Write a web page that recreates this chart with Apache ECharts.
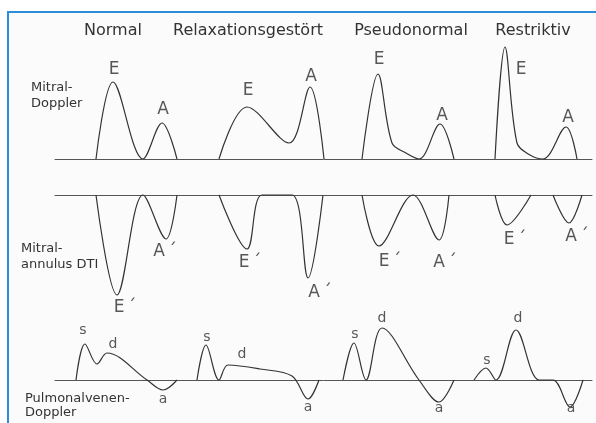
<!DOCTYPE html>
<html>
<head>
<meta charset="utf-8">
<title>Diastolische Funktion</title>
<script src="https://cdn.jsdelivr.net/npm/echarts@6/dist/echarts.min.js"></script>
<style>
  html, body { margin: 0; padding: 0; background: #fff; }
  #main { width: 596px; height: 423px; }
</style>
</head>
<body>
<div id="main"></div>
<script>
// Kategorien (Spaltenueberschriften)
var stages = ['Normal', 'Relaxationsgestört', 'Pseudonormal', 'Restriktiv'];
var stageX = [113, 248, 411, 533];

// Mitral-Doppler: [Zeit, Amplitude] je Stadium
var mitralNormal = [[96,0],[113,77],[143,0],[162,36],[177,0]];
var mitralRelax  = [[219,0],[247,52],[289,16],[310,72],[324,0]];
var mitralPseudo = [[362,0],[378,85],[392,16],[406,6],[419,0],[440,35],[454,0]];
var mitralRestr  = [[495,0],[505,112],[517,16],[530,4],[543,0],[566,32],[577,0]];

// Mitralannulus DTI
var dtiNormal = [[96,0],[117,-100],[143,0],[166,-44],[177,0]];
var dtiRelax  = [[219,0],[247,-54],[262,0],[292,0],[308,-83],[323,0]];
var dtiPseudo = [[362,0],[379,-51],[413,0],[439,-45],[449,0]];
var dtiRestr  = [[495,0],[507,-30],[531,0]];
var dtiRestrA = [[553,0],[569,-28],[582,0]];

// Pulmonalvenen-Doppler
var pvNormal = [[76,0],[85,36],[97,16],[107,27],[147,0],[163,-10],[177,0]];
var pvRelax  = [[197,0],[206,35],[219,0],[228,15],[260,11],[292,4],[308,-19],[319,0]];
var pvPseudo = [[343,0],[354,37],[366,0],[382,52],[419,0],[439,-22],[454,0]];
var pvRestr  = [[474,0],[486,12],[496,0],[516,50],[539,0],[553,0],[570,-27],[583,0]];

// Wellenbeschriftungen [x, Amplitude, Text]
var mitralLabels = [[114,89,'E'],[163,49,'A'],[248,68,'E'],[311,82,'A'],[379,99,'E'],[442,43,'A'],[521,89,'E'],[568,41,'A']];
var dtiLabels = [[125,-113,'E\u2009´'],[165,-57,'A\u2009´'],[250,-68,'E\u2009´'],[320,-98,'A\u2009´'],[390,-67,'E\u2009´'],[445,-68,'A\u2009´'],[515,-45,'E\u2009´'],[577,-42,'A\u2009´']];
var pvLabels = [[83,50,'s'],[113,36,'d'],[163,-19,'a'],[207,43,'s'],[242,26,'d'],[308,-27,'a'],[355,46,'s'],[382,62,'d'],[439,-28,'a'],[487,20,'s'],[518,62,'d'],[571,-28,'a']];

// Zeilenbeschriftungen
var rowLabels = [
  { x: 31, lines: ['Mitral-', 'Doppler'], y: [88, 104] },
  { x: 21, lines: ['Mitral-', 'annulus DTI'], y: [249, 265] },
  { x: 25, lines: ['Pulmonalvenen-', 'Doppler'], y: [399, 413] }
];

var myChart = echarts.init(document.getElementById('main'));

var FONT = 'DejaVu Sans';
var lineColor = '#333';

function curve(data, idx) {
  return {
    type: 'line',
    xAxisIndex: idx,
    yAxisIndex: idx,
    data: data,
    smooth: 0.35,
    symbol: 'none',
    silent: true,
    lineStyle: { color: lineColor, width: 1.2 }
  };
}

function labels(list, idx, size) {
  return {
    type: 'scatter',
    xAxisIndex: idx,
    yAxisIndex: idx,
    symbolSize: 0,
    silent: true,
    data: list.map(function (d) { return { value: [d[0], d[1]], name: d[2] }; }),
    label: {
      show: true,
      position: 'inside',
      formatter: '{b}',
      color: '#2e2e2e',
      fontFamily: FONT,
      fontSize: size
    }
  };
}

function xAx(idx) {
  return {
    type: 'value', gridIndex: idx, min: 55, max: 592,
    axisLine: { show: true, onZero: true, lineStyle: { color: '#555', width: 1 } },
    axisTick: { show: false }, axisLabel: { show: false }, splitLine: { show: false }
  };
}
function yAx(idx, min, max) {
  return {
    type: 'value', gridIndex: idx, min: min, max: max, show: false,
    splitLine: { show: false }
  };
}

var graphics = [{
  type: 'rect',
  z: -10,
  shape: { x: 8, y: 12, width: 600, height: 420 },
  style: { fill: '#fbfbfb', stroke: '#2b8cd8', lineWidth: 2 }
}];
stages.forEach(function (s, i) {
  graphics.push({
    type: 'text', x: stageX[i], y: 31,
    style: { text: s, fill: '#333', font: '16px "' + FONT + '"', textAlign: 'center', textVerticalAlign: 'middle' }
  });
});
rowLabels.forEach(function (r) {
  r.lines.forEach(function (t, j) {
    graphics.push({
      type: 'text', x: r.x, y: r.y[j],
      style: { text: t, fill: '#333', font: '13px "' + FONT + '"', textAlign: 'left', textVerticalAlign: 'middle' }
    });
  });
});

var option = {
  backgroundColor: '#fff',
  animation: false,
  grid: [
    { left: 55, width: 537, top: 39, height: 120 },
    { left: 55, width: 537, top: 185, height: 135 },
    { left: 55, width: 537, top: 310, height: 110 }
  ],
  xAxis: [xAx(0), xAx(1), xAx(2)],
  yAxis: [yAx(0, 0, 120), yAx(1, -125, 10), yAx(2, -40, 70)],
  graphic: graphics,
  series: [
    curve(mitralNormal, 0), curve(mitralRelax, 0), curve(mitralPseudo, 0), curve(mitralRestr, 0),
    curve(dtiNormal, 1), curve(dtiRelax, 1), curve(dtiPseudo, 1), curve(dtiRestr, 1), curve(dtiRestrA, 1),
    curve(pvNormal, 2), curve(pvRelax, 2), curve(pvPseudo, 2), curve(pvRestr, 2),
    labels(mitralLabels, 0, 17),
    labels(dtiLabels, 1, 17),
    labels(pvLabels, 2, 14)
  ]
};

myChart.setOption(option);
</script>
</body>
</html>
